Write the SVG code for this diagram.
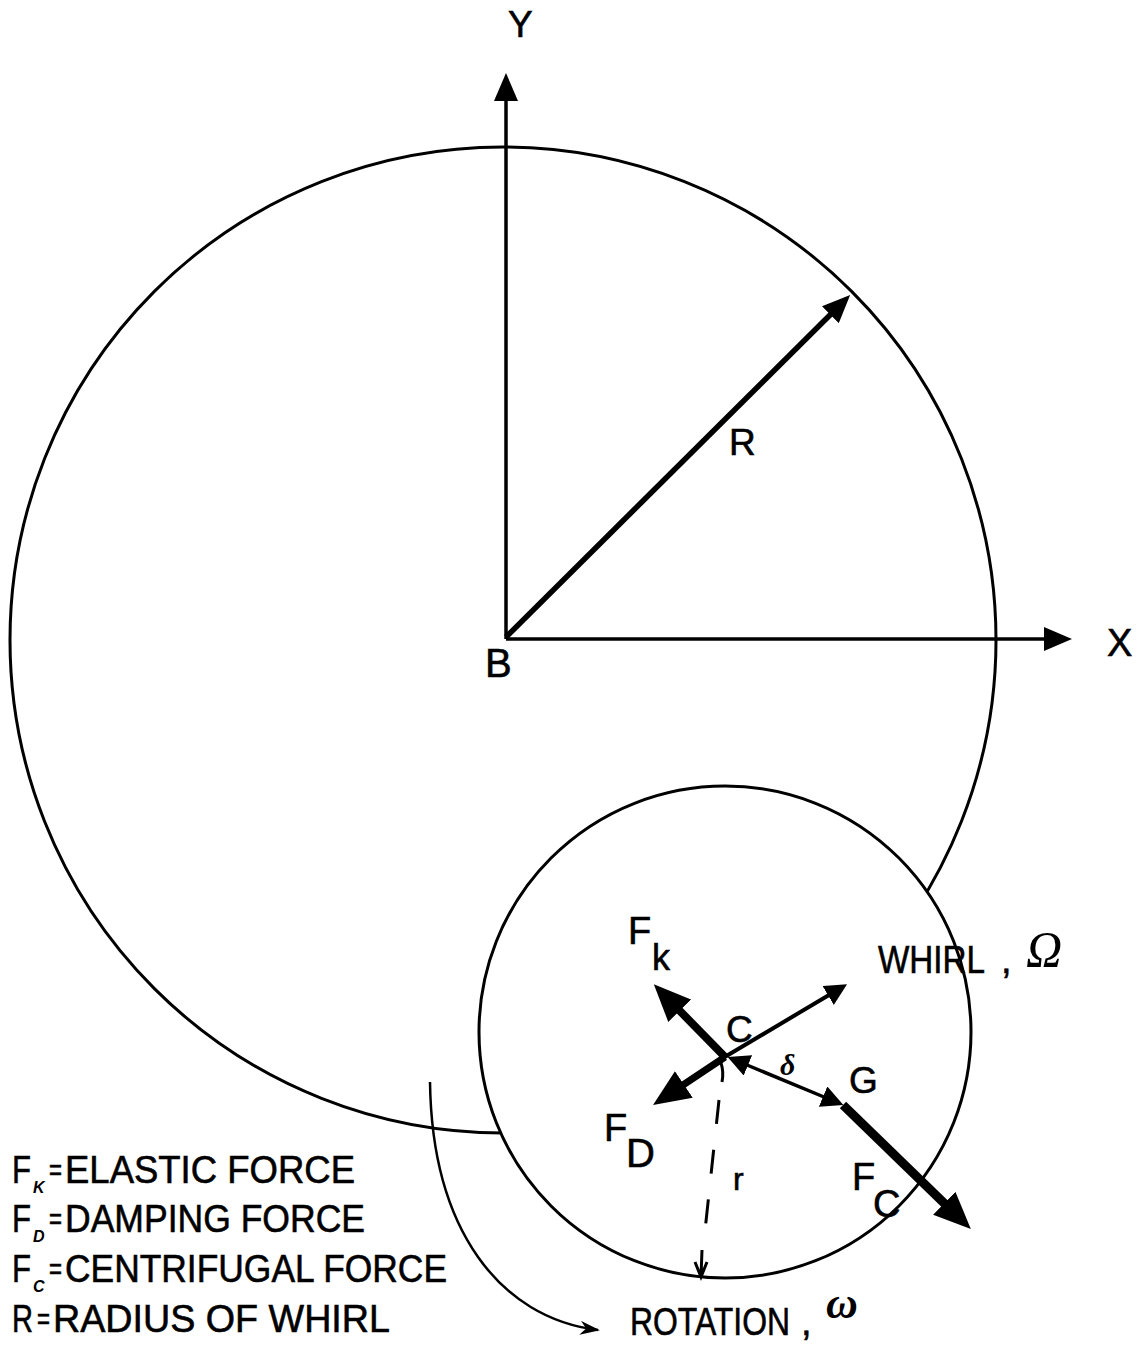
<svg xmlns="http://www.w3.org/2000/svg" width="1142" height="1349" viewBox="0 0 1142 1349">
<style>
  .ln{stroke:#000;fill:none;stroke-linecap:butt}
  .t{font-family:"Liberation Sans",Arial,sans-serif;fill:#000;stroke:#000;stroke-width:0.6}
  .sub{font-family:"Liberation Sans",Arial,sans-serif;font-style:italic;font-weight:bold;fill:#000}
  .gk{font-family:"Liberation Serif","Times New Roman",serif;font-style:italic;fill:#000}
</style>
<defs>
  <marker id="big" markerUnits="userSpaceOnUse" markerWidth="37" markerHeight="32" viewBox="0 0 37 32" refX="1" refY="16" orient="auto"><path d="M0,0 L37,16 L0,32 z" fill="#000"/></marker>
  <marker id="mid" markerUnits="userSpaceOnUse" markerWidth="28" markerHeight="24" viewBox="0 0 28 24" refX="1" refY="12" orient="auto"><path d="M0,0 L28,12 L0,24 z" fill="#000"/></marker>
  <marker id="sm" markerUnits="userSpaceOnUse" markerWidth="22" markerHeight="22" viewBox="0 0 22 22" refX="1" refY="11" orient="auto-start-reverse"><path d="M0,0 L22,11 L0,22 z" fill="#000"/></marker>
  <marker id="thin" markerUnits="userSpaceOnUse" markerWidth="20" markerHeight="14" viewBox="0 0 20 14" refX="18" refY="7" orient="auto"><path d="M0,0 L20,7 L0,14 L6,7 z" fill="#000"/></marker>
</defs>
<rect width="1142" height="1349" fill="#fff"/>

<g id="whirl-orbit">
  <circle cx="503" cy="640" r="493" class="ln" stroke-width="3"/>
</g>

<g id="connectors">
  <line x1="506" y1="639" x2="506" y2="100" class="ln" stroke-width="3.5" marker-end="url(#mid)"/>
  <line x1="506" y1="639" x2="1045" y2="639" class="ln" stroke-width="3.5" marker-end="url(#mid)"/>
  <line x1="506" y1="637" x2="831" y2="314" class="ln" stroke-width="5.5" marker-end="url(#mid)"/>
  <path d="M430,1082 C432,1230 500,1318 598,1330" class="ln" stroke-width="2.5" marker-end="url(#thin)"/>
</g>

<g id="rotor">
  <circle cx="725" cy="1032" r="246" fill="#fff" stroke="#000" stroke-width="3"/>
</g>

<g id="forces">
  <line x1="725" y1="1057" x2="679" y2="1010" class="ln" stroke-width="8" marker-end="url(#big)"/>
  <line x1="725" y1="1057" x2="683" y2="1085" class="ln" stroke-width="7" marker-end="url(#big)"/>
  <line x1="718" y1="1061" x2="829" y2="995" class="ln" stroke-width="4" marker-end="url(#sm)"/>
  <line x1="747" y1="1065" x2="824" y2="1097" class="ln" stroke-width="3.5" marker-start="url(#sm)" marker-end="url(#sm)"/>
  <line x1="843" y1="1105" x2="945" y2="1204" class="ln" stroke-width="9" marker-end="url(#big)"/>
  <path d="M721,1063 Q724,1072 722,1082" class="ln" stroke-width="3"/>
  <path d="M719,1100 L704,1240" class="ln" stroke-width="3" stroke-dasharray="24 26"/>
  <path d="M702,1250 L701,1277 M695,1262 L701,1277 L707,1262" class="ln" stroke-width="3"/>
</g>

<g id="labels">
  <text x="508" y="37" class="t" font-size="37">Y</text>
  <text x="1107" y="656" class="t" font-size="38">X</text>
  <text x="485" y="677" class="t" font-size="40">B</text>
  <text x="729" y="455" class="t" font-size="37">R</text>
  <text x="628" y="944" class="t" font-size="38">F</text>
  <text x="652" y="970" class="t" font-size="36">k</text>
  <text x="726" y="1042" class="t" font-size="37">C</text>
  <text x="780" y="1075" class="gk" font-weight="bold" font-size="30">δ</text>
  <text x="849" y="1093" class="t" font-size="37">G</text>
  <text x="604" y="1141" class="t" font-size="38">F</text>
  <text x="626" y="1167" class="t" font-size="40">D</text>
  <text x="852" y="1190" class="t" font-size="38">F</text>
  <text x="873" y="1217" class="t" font-size="38">C</text>
  <text x="733" y="1190" class="t" font-size="32">r</text>
  <text x="878" y="973" class="t" font-size="38" textLength="107" lengthAdjust="spacingAndGlyphs">WHIRL</text>
  <text x="1001" y="973" class="t" font-size="38">,</text>
  <text x="1026" y="966" class="gk" font-size="50">Ω</text>
  <text x="630" y="1335" class="t" font-size="39" textLength="160" lengthAdjust="spacingAndGlyphs">ROTATION</text>
  <text x="801" y="1335" class="t" font-size="38">,</text>
  <text x="826" y="1318" class="gk" font-weight="bold" font-size="44">ω</text>
</g>

<g id="legend">
  <text x="12" y="1183" class="t" font-size="39" textLength="19" lengthAdjust="spacingAndGlyphs">F</text>
  <text x="33" y="1193" class="sub" font-size="16">K</text>
  <text x="49" y="1180" class="t" font-size="30" textLength="13" lengthAdjust="spacingAndGlyphs">=</text>
  <text x="65" y="1183" class="t" font-size="39" textLength="290" lengthAdjust="spacingAndGlyphs">ELASTIC FORCE</text>
  <text x="12" y="1232" class="t" font-size="39" textLength="19" lengthAdjust="spacingAndGlyphs">F</text>
  <text x="33" y="1242" class="sub" font-size="16">D</text>
  <text x="49" y="1229" class="t" font-size="30" textLength="13" lengthAdjust="spacingAndGlyphs">=</text>
  <text x="65" y="1232" class="t" font-size="39" textLength="300" lengthAdjust="spacingAndGlyphs">DAMPING FORCE</text>
  <text x="12" y="1282" class="t" font-size="39" textLength="19" lengthAdjust="spacingAndGlyphs">F</text>
  <text x="33" y="1292" class="sub" font-size="16">C</text>
  <text x="49" y="1279" class="t" font-size="30" textLength="13" lengthAdjust="spacingAndGlyphs">=</text>
  <text x="65" y="1282" class="t" font-size="39" textLength="382" lengthAdjust="spacingAndGlyphs">CENTRIFUGAL FORCE</text>
  <text x="12" y="1332" class="t" font-size="39" textLength="21" lengthAdjust="spacingAndGlyphs">R</text>
  <text x="37" y="1329" class="t" font-size="30" textLength="13" lengthAdjust="spacingAndGlyphs">=</text>
  <text x="53" y="1332" class="t" font-size="39" textLength="337" lengthAdjust="spacingAndGlyphs">RADIUS OF WHIRL</text>
</g>
</svg>
